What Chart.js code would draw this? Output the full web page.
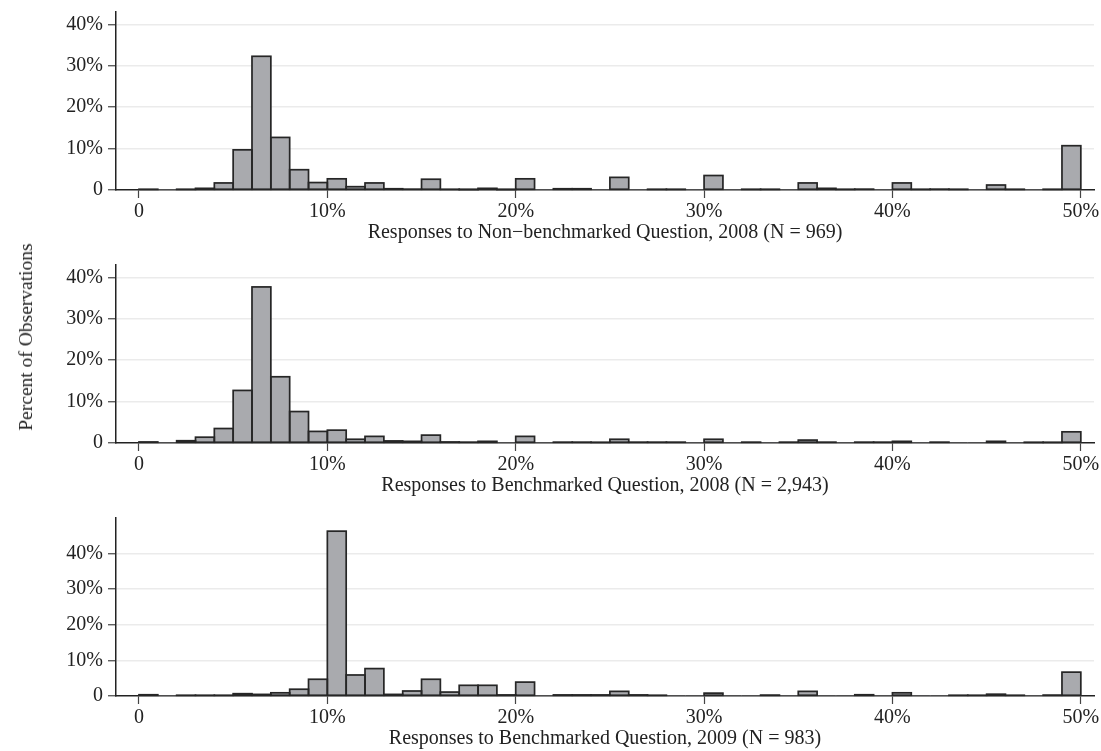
<!DOCTYPE html>
<html>
<head>
<meta charset="utf-8">
<script src="https://cdn.jsdelivr.net/npm/chart.js@4.4.1/dist/chart.umd.min.js"></script>
<style>
  body { margin:0; background:#fff; width:1101px; height:751px; position:relative; overflow:hidden; }
  canvas { position:absolute; left:0; }
  #ytitle { position:absolute; left:26px; top:337px; transform:translate(-50%,-50%) rotate(-90deg);
            font:19.5px "Liberation Serif", "Times New Roman", serif; color:#222; white-space:nowrap; }
</style>
</head>
<body>
<canvas id="c1" width="1101" height="243" style="top:0px"></canvas>
<canvas id="c2" width="1101" height="243" style="top:253px"></canvas>
<canvas id="c3" width="1101" height="243" style="top:506px"></canvas>
<div id="ytitle">Percent of Observations</div>
<script>
// lower edge of each 1-point bin (responses in %)
const bins = [0,1,2,3,4,5,6,7,8,9,10,11,12,13,14,15,16,17,18,19,20,21,22,23,24,
              25,26,27,28,29,30,31,32,33,34,35,36,37,38,39,40,41,42,43,44,45,46,47,48,49];

// percent of observations per bin
const nonBench2008 = [0.15,0,0.15,0.4,1.7,9.7,32.3,12.7,4.9,1.8,2.7,0.8,1.7,0.3,0.2,2.6,0.15,0.1,0.4,0.1,
                      2.7,0,0.3,0.3,0,3.05,0,0.15,0.15,0,3.5,0,0.15,0.15,0,1.7,0.4,0.15,0.2,0,
                      1.7,0.15,0.2,0.15,0,1.2,0.15,0,0.15,10.7];
const bench2008 = [0.25,0,0.55,1.4,3.5,12.7,37.7,16.0,7.6,2.8,3.1,0.9,1.6,0.5,0.4,1.9,0.25,0.2,0.4,0,
                   1.6,0,0.2,0.2,0.15,0.9,0.2,0.2,0.2,0,0.9,0,0.2,0,0.2,0.7,0.2,0,0.2,0.2,
                   0.4,0,0.2,0,0,0.4,0,0.15,0.15,2.7];
const bench2009 = [0.35,0,0.2,0.2,0.2,0.65,0.45,0.9,1.9,4.7,46.3,5.9,7.7,0.45,1.4,4.7,1.1,3.0,3.0,0.3,
                   3.9,0,0.3,0.3,0.3,1.3,0.3,0.2,0,0,0.8,0,0,0.25,0,1.3,0,0,0.35,0,
                   0.9,0,0,0.2,0.2,0.5,0.2,0,0.25,6.7];

const xTicks = [0,10,20,30,40,50];
const xTickLabels = ['0','10%','20%','30%','40%','50%'];
const yTicks = [0,10,20,30,40];
const yTickLabels = ['0','10%','20%','30%','40%'];

Chart.defaults.font.family = '"Liberation Serif", "Times New Roman", serif';
Chart.defaults.font.size = 20;
Chart.defaults.color = '#222';

// stata-like bar outlines: stroke centred on the bar edges, so tiny bars still show
const barOutline = {
    id: 'barOutline',
    afterDatasetsDraw(chart){
        const ctx = chart.ctx;
        const meta = chart.getDatasetMeta(0);
        ctx.save();
        ctx.strokeStyle = '#262626';
        ctx.lineWidth = 1.7;
        meta.data.forEach((bar, i) => {
            if (!chart.data.datasets[0].data[i].y) return;
            const p = bar.getProps(['x', 'y', 'width', 'base'], true);
            ctx.strokeRect(p.x - p.width / 2, p.y, p.width, p.base - p.y);
        });
        ctx.restore();
    }
};

function makeHist(id, values, yMax, title){
    new Chart(document.getElementById(id), {
        type: 'bar',
        data: {
            datasets: [{
                data: bins.map((b, i) => ({x: b + 0.5, y: values[i]})),
                backgroundColor: '#a9aaae',
                borderWidth: 0,
                categoryPercentage: 1,
                barPercentage: 1
            }]
        },
        plugins: [barOutline],
        options: {
            responsive: false,
            animation: false,
            layout: {padding: {top: 12, right: 7, bottom: 0, left: 0}},
            plugins: {legend: {display: false}, tooltip: {enabled: false}},
            scales: {
                x: {
                    type: 'linear',
                    min: -1.22,
                    max: 50.7,
                    offset: false,
                    afterBuildTicks: s => { s.ticks = xTicks.map(v => ({value: v})); },
                    afterFit: s => { s.height = 53; s.paddingLeft = 0; s.paddingRight = 0; },
                    ticks: {
                        padding: 2,
                        maxRotation: 0,
                        callback: v => xTickLabels[xTicks.indexOf(v)]
                    },
                    grid: {offset: false, drawOnChartArea: false, tickLength: 8, tickColor: '#444', tickWidth: 1.2},
                    border: {display: true, color: '#222', width: 1.5},
                    title: {display: true, text: title, padding: 0, font: {size: 20, lineHeight: 1}}
                },
                y: {
                    min: 0,
                    max: yMax,
                    afterBuildTicks: s => { s.ticks = yTicks.map(v => ({value: v})); },
                    afterFit: s => { s.width = 116; s.paddingTop = 0; s.paddingBottom = 0; },
                    ticks: {
                        padding: 5,
                        callback: v => yTickLabels[yTicks.indexOf(v)]
                    },
                    grid: {
                        color: c => c.tick && c.tick.value === 0 ? 'rgba(0,0,0,0)' : '#ebebeb',
                        lineWidth: 1.5,
                        tickLength: 8,
                        tickColor: '#444',
                        tickWidth: 1.2
                    },
                    border: {display: true, color: '#222', width: 1.5}
                }
            }
        }
    });
}

makeHist('c1', nonBench2008, 43, 'Responses to Non\u2212benchmarked Question, 2008 (N = 969)');
makeHist('c2', bench2008, 43, 'Responses to Benchmarked Question, 2008 (N = 2,943)');
makeHist('c3', bench2009, 50, 'Responses to Benchmarked Question, 2009 (N = 983)');
</script>
</body>
</html>
